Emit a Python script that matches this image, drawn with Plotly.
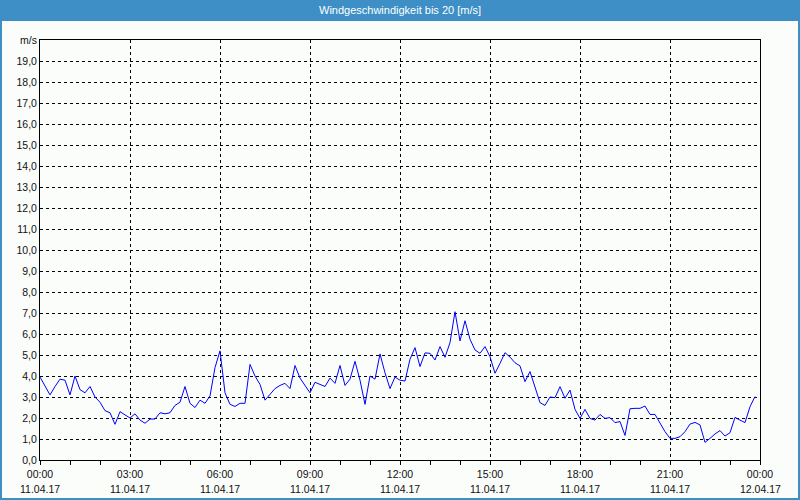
import pandas as pd
import plotly.graph_objects as go

# 10-minute wind speed readings, 11.04.17 00:00 .. 23:50
times = pd.date_range("2017-04-11 00:00", periods=144, freq="10min")
wind_speed = [
    3.95, 3.5, 3.1, 3.5, 3.85, 3.8, 3.1, 4.0, 3.35, 3.2, 3.5, 3.0,
    2.75, 2.35, 2.25, 1.7, 2.3, 2.15, 2.0, 2.2, 1.9, 1.75, 1.95, 1.95,
    2.25, 2.2, 2.25, 2.6, 2.75, 3.5, 2.7, 2.5, 2.85, 2.7, 3.05, 4.4,
    5.2, 3.2, 2.65, 2.55, 2.7, 2.7, 4.55, 4.0, 3.6, 2.85, 3.1, 3.4,
    3.55, 3.65, 3.4, 4.5, 3.9, 3.55, 3.2, 3.7, 3.6, 3.5, 3.9, 3.65,
    4.5, 3.55, 3.85, 4.7, 3.8, 2.65, 4.0, 3.85, 5.05, 4.15, 3.4, 3.95,
    3.8, 3.76, 4.8, 5.35, 4.45, 5.1, 5.08, 4.76, 5.4, 4.89, 5.59, 7.06,
    5.67, 6.63, 5.75, 5.24, 5.08, 5.4, 4.92, 4.13, 4.6, 5.11, 4.9, 4.63,
    4.48, 3.73, 4.21, 3.46, 2.73, 2.6, 3.0, 2.97, 3.49, 2.94, 3.33, 2.41,
    1.98, 2.41, 1.98, 1.9, 2.17, 1.98, 2.02, 1.78, 1.83, 1.17, 2.44, 2.46,
    2.46, 2.57, 2.17, 2.17, 1.75, 1.35, 1.03, 1.03, 1.11, 1.35, 1.71, 1.79,
    1.67, 0.84, 1.03, 1.24, 1.4, 1.14, 1.3, 2.03, 1.9, 1.78, 2.54, 3.02,
]

tick_times = pd.date_range("2017-04-11 00:00", "2017-04-12 00:00", freq="3h")
hour_ticks = pd.date_range("2017-04-11 00:00", "2017-04-12 00:00", freq="1h")
y_ticks = list(range(0, 21))
y_labels = [f"{v},0" for v in range(0, 20)] + ["m/s"]

title = "Windgeschwindigkeit bis 20 [m/s]"
blue = "#3d8fc6"
bg = "#fbfdfb"
W, H, L, R, T, B = 800, 500, 40, 40, 40, 40
pw, ph = W - L - R, H - T - B

fig = go.Figure()
fig.add_trace(go.Scatter(x=times, y=wind_speed, mode="lines",
                         line=dict(color="#0000ff", width=1)))

fig.update_layout(
    width=W, height=H, margin=dict(l=L, r=R, t=T, b=B),
    paper_bgcolor=bg, plot_bgcolor=bg, showlegend=False,
    font=dict(family="Liberation Sans", size=10.5, color="#111111"),
)
fig.update_xaxes(
    automargin=False,
    range=[tick_times[0], tick_times[-1]], tickmode="array", tickvals=tick_times,
    tickformat="%H:%M", ticks="outside", ticklen=4, tickcolor="black",
    showline=True, linecolor="black", linewidth=1, mirror=True,
    showgrid=True, gridcolor="black", gridwidth=1, griddash="3px,3px",
    minor=dict(tickmode="array", tickvals=hour_ticks, ticks="outside",
               ticklen=4, tickcolor="black", showgrid=False),
)
fig.update_yaxes(
    automargin=False,
    range=[0, 20], tickmode="array", tickvals=y_ticks, ticktext=y_labels,
    ticks="", showline=True, linecolor="black", linewidth=1, mirror=True,
    showgrid=True, gridcolor="black", gridwidth=1, griddash="3px,3px",
    zeroline=False,
)

# title bar + outer frame
fig.add_shape(type="rect", xref="paper", yref="paper",
              x0=-L / pw, x1=(pw + R) / pw, y0=(ph + T - 21) / ph, y1=(ph + T) / ph,
              fillcolor=blue, line=dict(width=0), layer="below")
fig.add_shape(type="rect", xref="paper", yref="paper",
              x0=(-L + 1) / pw, x1=(pw + R - 1) / pw, y0=(-B + 1) / ph, y1=(ph + T - 1) / ph,
              line=dict(color=blue, width=2))
fig.add_annotation(text=title, xref="paper", yref="paper", x=0.5 + (L - R) / 2 / pw,
                   y=(ph + T - 10) / ph, showarrow=False, yanchor="middle",
                   font=dict(color="white", size=11, family="Liberation Sans"))

# date line under the time labels
for t in tick_times:
    fig.add_annotation(text=t.strftime("%d.%m.%y"), x=t, xref="x", yref="paper",
                       y=-29 / ph, yanchor="middle", showarrow=False)

# page has a default 8px body margin; drop it so the chart sits at 0,0
fig.write_html("out.html", config={"displayModeBar": False},
               post_script="document.body.style.margin='0';")
